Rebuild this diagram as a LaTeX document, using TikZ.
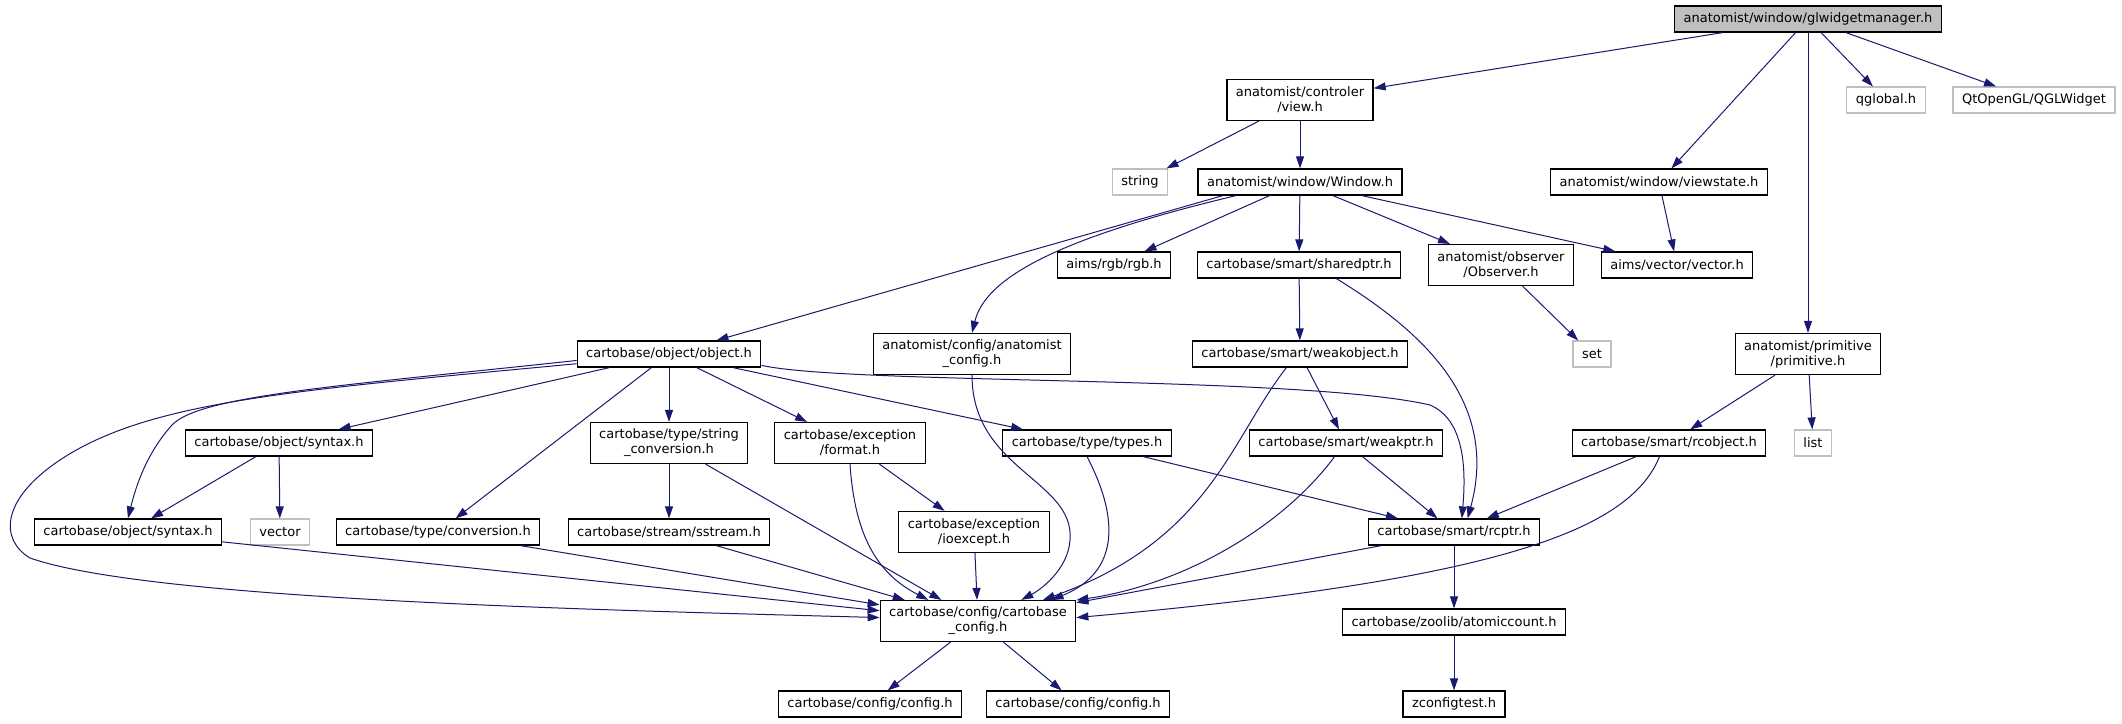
\documentclass[tikz,border=0pt]{standalone}
\usepackage{fontspec}
\setmainfont{DejaVu Sans}
\usetikzlibrary{arrows.meta}
\definecolor{edgeBlue}{HTML}{191970}
\definecolor{extGray}{HTML}{BFBFBF}
\definecolor{rootGray}{HTML}{BFBFBF}

\begin{document}
\begin{tikzpicture}[x=1pt, y=-1pt,
    hdr/.style={rectangle, draw=black, line width=1.2pt, fill=white,
                minimum height=26pt, inner xsep=9pt, inner ysep=2pt,
                align=center, font=\fontsize{13}{15}\selectfont},
    hdrtwo/.style={hdr, minimum height=41pt},
    ext/.style={hdr, draw=extGray},
    root/.style={hdr, fill=rootGray},
    dep/.style={-{Triangle[length=12pt, width=8pt]}, draw=edgeBlue, line width=1pt},
  ]
    \path[use as bounding box, fill=white] (0,0) rectangle (2122,723);

    % Level 0
    \node[root] (glwm) at (1808,19) {anatomist/window/glwidgetmanager.h};

    % Level 1
    \node[hdrtwo] (view) at (1300,100) {anatomist/controler\\/view.h};
    \node[ext] (qglobal) at (1886,100) {qglobal.h};
    \node[ext] (qglwidget) at (2034,100) {QtOpenGL/QGLWidget};

    % Level 2
    \node[ext] (string) at (1140,182) {string};
    \node[hdr] (window) at (1300,182) {anatomist/window/Window.h};
    \node[hdr] (viewstate) at (1659,182) {anatomist/window/viewstate.h};

    % Level 3
    \node[hdr] (rgb) at (1114,265) {aims/rgb/rgb.h};
    \node[hdr] (sharedptr) at (1299,265) {cartobase/smart/sharedptr.h};
    \node[hdrtwo] (observer) at (1501,265) {anatomist/observer\\/Observer.h};
    \node[hdr] (vectorh) at (1677,265) {aims/vector/vector.h};

    % Level 4
    \node[hdr] (objecth) at (669,354) {cartobase/object/object.h};
    \node[hdrtwo] (anaconf) at (972,354) {anatomist/config/anatomist\\\_config.h};
    \node[hdr] (weakobject) at (1300,354) {cartobase/smart/weakobject.h};
    \node[ext] (set) at (1592,354) {set};
    \node[hdrtwo] (primitive) at (1808,354) {anatomist/primitive\\/primitive.h};

    % Level 5
    \node[hdr] (syntaxa) at (279,443) {cartobase/object/syntax.h};
    \node[hdrtwo] (strconv) at (669,443) {cartobase/type/string\\\_conversion.h};
    \node[hdrtwo] (format) at (850,443) {cartobase/exception\\/format.h};
    \node[hdr] (types) at (1087,443) {cartobase/type/types.h};
    \node[hdr] (weakptr) at (1346,443) {cartobase/smart/weakptr.h};
    \node[hdr] (rcobject) at (1669,443) {cartobase/smart/rcobject.h};
    \node[ext] (list) at (1813,443) {list};

    % Level 6
    \node[hdr] (syntaxb) at (128,532) {cartobase/object/syntax.h};
    \node[ext] (vectorstd) at (280,532) {vector};
    \node[hdr] (conversion) at (438,532) {cartobase/type/conversion.h};
    \node[hdr] (sstream) at (669,532) {cartobase/stream/sstream.h};
    \node[hdrtwo] (ioexcept) at (974,532) {cartobase/exception\\/ioexcept.h};
    \node[hdr] (rcptr) at (1454,532) {cartobase/smart/rcptr.h};

    % Level 7
    \node[hdrtwo] (cbconf) at (978,621) {cartobase/config/cartobase\\\_config.h};
    \node[hdr] (atomic) at (1454,622) {cartobase/zoolib/atomiccount.h};

    % Level 8
    \node[hdr] (configa) at (870,704) {cartobase/config/config.h};
    \node[hdr] (configb) at (1078,704) {cartobase/config/config.h};
    \node[hdr] (zconf) at (1454,704) {zconfigtest.h};

    % Includes of the root
    \draw[dep] (glwm) -- (view);
    \draw[dep] (glwm) -- (viewstate);
    \draw[dep] (glwm) -- (primitive);
    \draw[dep] (glwm) -- (qglobal);
    \draw[dep] (glwm) -- (qglwidget);

    % anatomist headers
    \draw[dep] (view) -- (string);
    \draw[dep] (view) -- (window);
    \draw[dep] (viewstate) -- (vectorh);
    \draw[dep] (window.190) -- (objecth);
    \draw[dep] (window.192) .. controls (1050,240) and (985,280) .. (anaconf.north);
    \draw[dep] (window) -- (rgb);
    \draw[dep] (window) -- (sharedptr);
    \draw[dep] (window) -- (observer);
    \draw[dep] (window) -- (vectorh);
    \draw[dep] (observer) -- (set);
    \draw[dep] (primitive) -- (rcobject);
    \draw[dep] (primitive) -- (list);
    \draw[dep] (anaconf.south) .. controls (972,470) and (1075,480) .. (1070,540)
                               .. controls (1068,570) and (1040,590) .. (cbconf.26);

    % cartobase object
    \draw[dep] (objecth) -- (syntaxa);
    \draw[dep] (objecth) -- (strconv);
    \draw[dep] (objecth) -- (format);
    \draw[dep] (objecth) -- (types);
    \draw[dep] (objecth) -- (conversion);
    \draw[dep] (objecth.184) .. controls (350,385) and (200,395) .. (172,425)
                             .. controls (145,455) and (135,490) .. (syntaxb.north);
    \draw[dep] (objecth.186) .. controls (300,390) and (150,400) .. (60,460)
                             .. controls (0,500) and (0,540) .. (30,558)
                             .. controls (150,600) and (600,610) .. (cbconf.178);
    \draw[dep] (objecth.-7) .. controls (850,385) and (1300,375) .. (1430,405)
                            .. controls (1465,420) and (1466,470) .. (rcptr.60);
    \draw[dep] (syntaxa) -- (syntaxb);
    \draw[dep] (syntaxa) -- (vectorstd);
    \draw[dep] (strconv) -- (sstream);
    \draw[dep] (strconv) -- (cbconf);
    \draw[dep] (format) -- (ioexcept);
    \draw[dep] (format.south) .. controls (855,540) and (880,575) .. (cbconf.157);
    \draw[dep] (types.south) .. controls (1115,510) and (1125,570) .. (cbconf.16);
    \draw[dep] (types) -- (rcptr);

    % cartobase smart pointers
    \draw[dep] (sharedptr) -- (weakobject);
    \draw[dep] (sharedptr.-20) .. controls (1420,330) and (1500,400) .. (rcptr.45);
    \draw[dep] (weakobject) -- (weakptr);
    \draw[dep] (weakobject.225) .. controls (1230,440) and (1210,540) .. (cbconf.18);
    \draw[dep] (weakptr) -- (rcptr);
    \draw[dep] (weakptr.230) .. controls (1280,530) and (1180,585) .. (cbconf.12);
    \draw[dep] (rcobject) -- (rcptr);
    \draw[dep] (rcobject.235) .. controls (1630,530) and (1500,580) .. (cbconf.2);

    % into cartobase_config.h
    \draw[dep] (syntaxb) -- (cbconf);
    \draw[dep] (conversion) -- (cbconf);
    \draw[dep] (sstream) -- (cbconf);
    \draw[dep] (ioexcept) -- (cbconf);
    \draw[dep] (rcptr) -- (cbconf);
    \draw[dep] (rcptr) -- (atomic);
    \draw[dep] (atomic) -- (zconf);
    \draw[dep] (cbconf) -- (configa);
    \draw[dep] (cbconf) -- (configb);
  \end{tikzpicture}
\end{document}
